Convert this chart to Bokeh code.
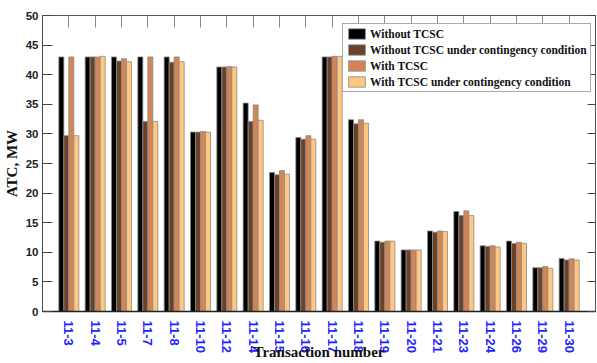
import numpy as np
from bokeh.plotting import figure
from bokeh.models import (Range1d, LinearAxis, FixedTicker, Legend, LegendItem,
                          CustomJSTickFormatter)
from bokeh.embed import file_html
from bokeh.resources import INLINE

# ATC (MW) per transaction, four operating cases
transactions = ["11-3", "11-4", "11-5", "11-7", "11-8", "11-10", "11-12", "11-14", "11-15", "11-16",
                "11-17", "11-18", "11-19", "11-20", "11-21", "11-23", "11-24", "11-26", "11-29", "11-30"]
without_tcsc = [43.0, 43.0, 43.0, 43.0, 43.0, 30.3, 41.3, 35.2, 23.5, 29.4,
                43.0, 32.4, 11.9, 10.4, 13.6, 16.9, 11.1, 11.9, 7.4, 8.95]
without_tcsc_cont = [29.7, 43.0, 42.3, 32.1, 42.1, 30.3, 41.3, 32.1, 23.1, 29.1,
                     43.0, 31.7, 11.7, 10.4, 13.4, 16.2, 11.0, 11.5, 7.4, 8.7]
with_tcsc = [43.0, 43.0, 42.7, 43.0, 43.0, 30.4, 41.4, 34.9, 23.8, 29.7,
             43.1, 32.4, 11.9, 10.4, 13.6, 17.0, 11.1, 11.7, 7.6, 8.9]
with_tcsc_cont = [29.7, 43.1, 42.2, 32.1, 42.2, 30.3, 41.3, 32.3, 23.2, 29.1,
                  43.1, 31.8, 11.9, 10.4, 13.5, 16.2, 10.9, 11.5, 7.3, 8.7]

series = [
    ("Without TCSC", without_tcsc, "#000000"),
    ("Without TCSC under contingency condition", without_tcsc_cont, "#6A422A"),
    ("With TCSC", with_tcsc, "#D48555"),
    ("With TCSC under contingency condition", with_tcsc_cont, "#FFC77F"),
]

n = len(transactions)
centers = np.arange(1, n + 1)
bar_w = 0.19
offsets = [-1.5 * bar_w, -0.5 * bar_w, 0.5 * bar_w, 1.5 * bar_w]

p = figure(width=597, height=363, x_range=Range1d(0, n + 1), y_range=Range1d(0, 50),
           output_backend="svg", toolbar_location=None,
           min_border_left=40, min_border_right=2, min_border_top=15, min_border_bottom=52)
p.background_fill_color = "white"
p.border_fill_color = "white"
p.outline_line_color = "#444444"
p.xgrid.visible = False
p.ygrid.visible = False

items = []
for (name, vals, color), off in zip(series, offsets):
    r = p.vbar(x=centers + off, top=vals, width=bar_w, bottom=0,
               fill_color=color, line_color="#8a8a8a", line_width=0.8)
    items.append(LegendItem(label=name, renderers=[r]))

# left axis
ya = p.yaxis[0]
ya.ticker = FixedTicker(ticks=list(range(0, 51, 5)))
ya.major_tick_in = 10
ya.major_tick_out = 0
ya.minor_tick_in = 0
ya.minor_tick_out = 0
ya.major_tick_line_color = "#444444"
ya.axis_line_color = "#444444"
ya.major_label_standoff = 4
ya.major_label_text_font = "Liberation Sans"
ya.major_label_text_font_style = "bold"
ya.major_label_text_font_size = "11.5px"
ya.major_label_text_color = "#222222"
ya.axis_label = "ATC, MW"
ya.axis_label_standoff = 3
ya.axis_label_text_font = "Liberation Serif"
ya.axis_label_text_font_style = "bold"
ya.axis_label_text_font_size = "15px"
ya.axis_label_text_color = "#111111"

# bottom axis with the transaction labels and title
xa = p.xaxis[0]
xa.ticker = FixedTicker(ticks=list(centers))
xa.major_label_overrides = {int(c): t for c, t in zip(centers, transactions)}
xa.major_label_orientation = "vertical"
xa.major_tick_in = 0
xa.major_tick_out = 0
xa.minor_tick_in = 0
xa.minor_tick_out = 0
xa.axis_line_color = "#222222"
xa.axis_line_width = 1.5
xa.major_label_standoff = 9
xa.major_label_text_font = "Liberation Sans"
xa.major_label_text_font_style = "bold"
xa.major_label_text_font_size = "13px"
xa.major_label_text_color = "#1f1fff"
xa.axis_label = "Transaction number"
xa.axis_label_standoff = -12
xa.axis_label_text_font = "Liberation Serif"
xa.axis_label_text_font_style = "bold"
xa.axis_label_text_font_size = "15px"
xa.axis_label_text_color = "#111111"

# top and right axes: ticks only
blank = CustomJSTickFormatter(code="return ''")
top = LinearAxis(ticker=FixedTicker(ticks=list(centers)), formatter=blank,
                 major_tick_in=12, major_tick_out=0, minor_tick_in=0, minor_tick_out=0,
                 major_label_standoff=0, major_tick_line_color="#888888",
                 axis_line_color="#555555")
p.add_layout(top, "above")
right = LinearAxis(ticker=FixedTicker(ticks=list(range(0, 51, 5))), formatter=blank,
                   major_tick_in=8, major_tick_out=0, minor_tick_in=0, minor_tick_out=0,
                   major_label_standoff=0, major_tick_line_color="#444444",
                   axis_line_color="#555555")
p.add_layout(right, "right")

legend = Legend(items=items, location=(300, 219), margin=0, padding=3, spacing=3,
                glyph_width=21, glyph_height=13, label_height=13, label_standoff=3,
                label_text_font="Liberation Serif", label_text_font_style="bold",
                label_text_font_size="11.5px", label_text_color="#111111",
                border_line_color="#555555", border_line_width=1,
                background_fill_color="white", background_fill_alpha=1.0)
p.add_layout(legend)

open("out.html", "w").write(file_html(p, INLINE))
